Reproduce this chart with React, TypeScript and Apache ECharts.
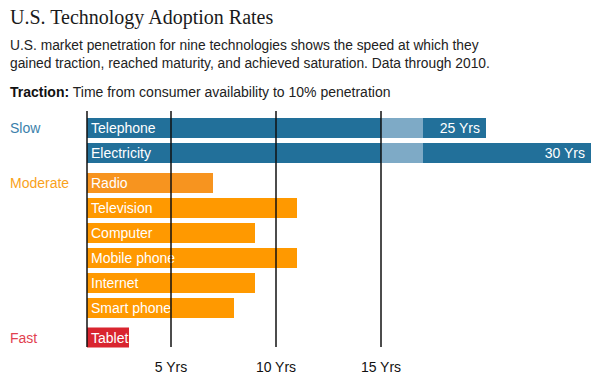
import React, { useEffect, useRef } from "react";
import * as echarts from "echarts";

const groupNames = ["Slow", "Moderate", "Fast"];
const slowCategories = ["Telephone", "Electricity"];
const slowYears = [25, 30];
const moderateCategories = ["Radio", "Television", "Computer", "Mobile phone", "Internet", "Smart phone"];
const moderateYears = [7, 11, 9, 11, 9, 8];
const fastCategories = ["Tablet"];
const fastYears = [3];
const tickValues = [5, 10, 15];
const referenceLines = [1, 5, 10, 15];
const axisStart = 1;
const axisEnd = 30;
const breakStart = 15;
const breakEnd = 22;
const breakGap = 2;

const SANS = "'Liberation Sans', Arial, Helvetica, sans-serif";
const SERIF = "'Liberation Serif', 'Times New Roman', serif";
const BLUE = "#22709a";
const BLUE_LIGHT = "#7eaac6";
const ORANGE = "#ff9900";
const ORANGE_RADIO = "#f7941f";
const RED = "#d9252f";
const groupColors = ["#3b7fab", "#f9a21b", "#e2414f"];

export default function App() {
  const ref = useRef<HTMLDivElement>(null);
  useEffect(() => {
    if (!ref.current) return;
    const chart = echarts.init(ref.current, null, { renderer: "svg" });
    const left = 87;
    const width = 504;
    const brk = [{ start: breakStart, end: breakEnd, gap: breakGap }];
    const hiddenX = (gi: number) => ({
      type: "value",
      gridIndex: gi,
      min: axisStart,
      max: axisEnd,
      breaks: brk,
      breakArea: { show: false },
      show: false,
      splitLine: { show: false },
    });
    const catY = (gi: number, data: string[], name: string, color: string) => ({
      type: "category",
      gridIndex: gi,
      data,
      inverse: true,
      axisLine: { show: false },
      axisTick: { show: false },
      splitLine: { show: false },
      axisLabel: {
        interval: 0,
        formatter: (_v: string, i: number) => (i === 0 ? name : ""),
        align: "left",
        margin: 77,
        color,
        fontSize: 14,
        fontFamily: SANS,
      },
    });
    const nameLabel = {
      show: true,
      position: "insideLeft",
      distance: 4,
      formatter: "{b}",
      color: "#fff",
      fontSize: 14,
      fontFamily: SANS,
    };
    const option: any = {
      animation: false,
      backgroundColor: "#fff",
      graphic: [
        {
          type: "text",
          x: 10,
          y: 17,
          style: { text: "U.S. Technology Adoption Rates", font: `20px ${SERIF}`, fill: "#1a1a1a", verticalAlign: "middle" },
        },
        {
          type: "text",
          x: 10,
          y: 45,
          style: {
            text: "U.S. market penetration for nine technologies shows the speed at which they",
            font: `13.8px ${SANS}`,
            fill: "#222",
            verticalAlign: "middle",
          },
        },
        {
          type: "text",
          x: 10,
          y: 63.5,
          style: {
            text: "gained traction, reached maturity, and achieved saturation. Data through 2010.",
            font: `13.8px ${SANS}`,
            fill: "#222",
            verticalAlign: "middle",
          },
        },
        {
          type: "text",
          x: 10,
          y: 92,
          style: {
            text: "{b|Traction:} Time from consumer availability to 10% penetration",
            font: `14px ${SANS}`,
            fill: "#222",
            verticalAlign: "middle",
            rich: {
              b: { fontWeight: "bold", fontSize: 14, fontFamily: SANS, fill: "#111" },
            },
          },
        },
      ],
      grid: [
        { left, width, top: 115.5, height: 50 },
        { left, width, top: 170.5, height: 150 },
        { left, width, top: 325, height: 25 },
        { left, width, top: 111, height: 236 },
      ],
      xAxis: [
        hiddenX(0),
        hiddenX(1),
        hiddenX(2),
        {
          type: "value",
          gridIndex: 3,
          min: axisStart,
          max: axisEnd,
          breaks: brk,
          breakArea: { show: false },
          axisLine: { show: false },
          axisTick: { show: false },
          splitLine: { show: false },
          axisLabel: {
            customValues: tickValues,
            formatter: (v: number) => `${v} Yrs`,
            color: "#111",
            fontSize: 14,
            fontFamily: SANS,
            margin: 13,
          },
        },
      ],
      yAxis: [
        catY(0, slowCategories, groupNames[0], groupColors[0]),
        catY(1, moderateCategories, groupNames[1], groupColors[1]),
        catY(2, fastCategories, groupNames[2], groupColors[2]),
        { type: "value", gridIndex: 3, min: 0, max: 1, show: false },
      ],
      series: [
        {
          type: "bar",
          xAxisIndex: 0,
          yAxisIndex: 0,
          stack: "slow",
          barWidth: 20,
          data: slowYears.map((v) => Math.min(v, breakStart)),
          itemStyle: { color: BLUE },
          label: nameLabel,
        },
        {
          type: "bar",
          xAxisIndex: 0,
          yAxisIndex: 0,
          stack: "slow",
          barWidth: 20,
          data: slowYears.map((v) => (v > breakStart ? Math.min(v, breakEnd) - breakStart : 0)),
          itemStyle: { color: BLUE_LIGHT },
        },
        {
          type: "bar",
          xAxisIndex: 0,
          yAxisIndex: 0,
          stack: "slow",
          barWidth: 20,
          data: slowYears.map((v) => Math.max(v - breakEnd, 0)),
          itemStyle: { color: BLUE },
          label: {
            show: true,
            position: "insideRight",
            distance: 6,
            formatter: (p: any) => `${slowYears[p.dataIndex]} Yrs`,
            color: "#fff",
            fontSize: 14,
            fontFamily: SANS,
          },
        },
        {
          type: "bar",
          xAxisIndex: 1,
          yAxisIndex: 1,
          barWidth: 20,
          data: moderateYears.map((v, i) => ({ value: v, itemStyle: { color: i === 0 ? ORANGE_RADIO : ORANGE } })),
          label: nameLabel,
        },
        {
          type: "bar",
          xAxisIndex: 2,
          yAxisIndex: 2,
          barWidth: 20,
          data: fastYears,
          itemStyle: { color: RED },
          label: nameLabel,
        },
        {
          type: "line",
          xAxisIndex: 3,
          yAxisIndex: 3,
          data: [],
          z: 10,
          markLine: {
            silent: true,
            z: 10,
            symbol: ["none", "none"],
            label: { show: false },
            lineStyle: { color: "#111", width: 1.5, type: "solid" },
            data: referenceLines.map((v) => ({ xAxis: v })),
          },
        },
      ],
    };
    chart.setOption(option);
    return () => chart.dispose();
  }, []);
  return (
    <div
      ref={ref}
      style={{ position: "fixed", left: 0, top: 0, width: 599, height: 389, background: "#fff" }}
    />
  );
}
